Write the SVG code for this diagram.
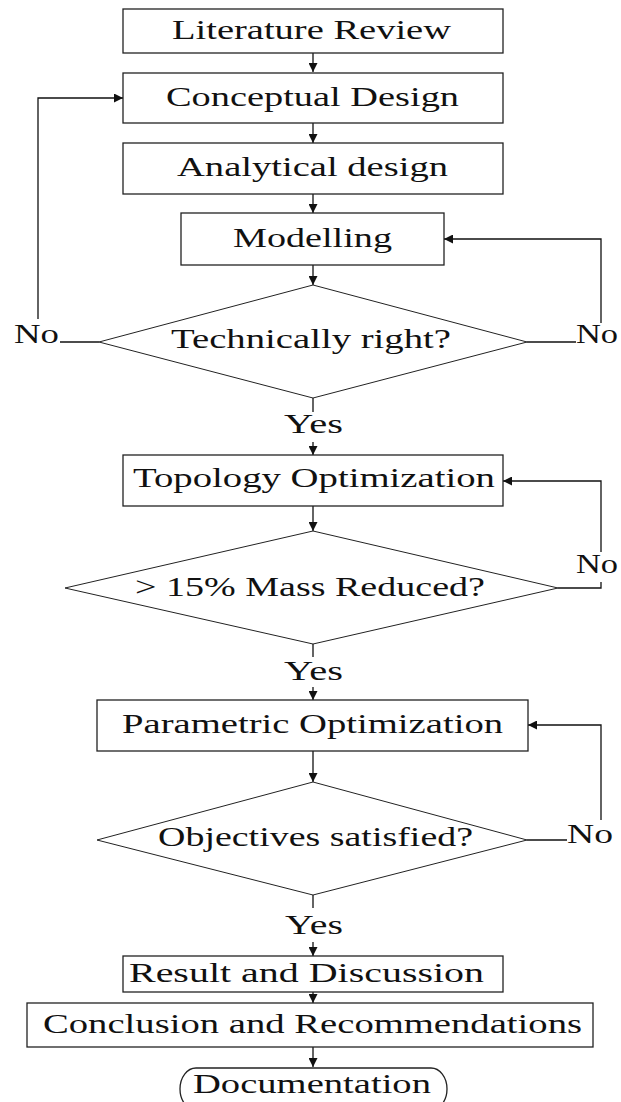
<svg xmlns="http://www.w3.org/2000/svg" width="621" height="1102" viewBox="0 0 621 1102">
<style>
.box{fill:#fff;stroke:#222;stroke-width:1.3}
.dia{fill:#fff;stroke:#222;stroke-width:1}
.t{font-family:"Liberation Serif","Times New Roman",serif;font-size:26.5px;fill:#111}
.c{fill:none;stroke:#111;stroke-width:1.3}
</style>
<defs>
<marker id="ah" markerUnits="userSpaceOnUse" markerWidth="9" markerHeight="9" refX="8" refY="4" orient="auto" viewBox="0 0 8 8">
<path d="M0,0 L8,4 L0,8 z" fill="#111"/>
</marker>
</defs>
<rect width="621" height="1102" fill="#fff"/>
<g id="connectors">
<path class="c" d="M313,53 V72" marker-end="url(#ah)"/>
<path class="c" d="M313,123 V143" marker-end="url(#ah)"/>
<path class="c" d="M313,194 V213" marker-end="url(#ah)"/>
<path class="c" d="M313,265 V285" marker-end="url(#ah)"/>
<path class="c" d="M99,342 H60"/>
<path class="c" d="M38,319 V98 H123" marker-end="url(#ah)"/>
<path class="c" d="M527,342 H576"/>
<path class="c" d="M601,323 V239 H444" marker-end="url(#ah)"/>
<path class="c" d="M313,398 V412"/>
<path class="c" d="M313,442 V455" marker-end="url(#ah)"/>
<path class="c" d="M313,506 V531" marker-end="url(#ah)"/>
<path class="c" d="M558,588 H601 V582"/>
<path class="c" d="M601,552 V481 H503" marker-end="url(#ah)"/>
<path class="c" d="M313,644 V657"/>
<path class="c" d="M313,687 V700" marker-end="url(#ah)"/>
<path class="c" d="M313,751 V782" marker-end="url(#ah)"/>
<path class="c" d="M527,840 H567"/>
<path class="c" d="M601,820 V725 H528" marker-end="url(#ah)"/>
<path class="c" d="M313,895 V908"/>
<path class="c" d="M313,942 V956" marker-end="url(#ah)"/>
<path class="c" d="M313,992 V1003" marker-end="url(#ah)"/>
<path class="c" d="M313,1047 V1067" marker-end="url(#ah)"/>
</g>
<g id="literature-review">
<rect class="box" x="123" y="9" width="380" height="44"/>
<text class="t" transform="translate(172,39) scale(1.46,1)" textLength="191.1" lengthAdjust="spacingAndGlyphs">Literature Review</text>
</g>
<g id="conceptual-design">
<rect class="box" x="123" y="73" width="380" height="50"/>
<text class="t" transform="translate(166,106) scale(1.46,1)" textLength="200.7" lengthAdjust="spacingAndGlyphs">Conceptual Design</text>
</g>
<g id="analytical-design">
<rect class="box" x="123" y="143" width="380" height="51"/>
<text class="t" transform="translate(177,176) scale(1.46,1)" textLength="185.6" lengthAdjust="spacingAndGlyphs">Analytical design</text>
</g>
<g id="modelling">
<rect class="box" x="181" y="213" width="263" height="52"/>
<text class="t" transform="translate(233,247) scale(1.46,1)" textLength="108.9" lengthAdjust="spacingAndGlyphs">Modelling</text>
</g>
<g id="technically-right">
<polygon class="dia" points="313,285 527,342 313,398 99,342"/>
<text class="t" transform="translate(171,348) scale(1.46,1)" textLength="191.8" lengthAdjust="spacingAndGlyphs">Technically right?</text>
</g>
<g id="labels-1">
<text class="t" transform="translate(14,343) scale(1.46,1)" textLength="30.8" lengthAdjust="spacingAndGlyphs">No</text>
<text class="t" transform="translate(576,343) scale(1.3,1)">No</text>
<text class="t" transform="translate(284,433) scale(1.46,1)" textLength="40.4" lengthAdjust="spacingAndGlyphs">Yes</text>
</g>
<g id="topology-optimization">
<rect class="box" x="123" y="455" width="380" height="51"/>
<text class="t" transform="translate(133,487) scale(1.46,1)" textLength="247.9" lengthAdjust="spacingAndGlyphs">Topology Optimization</text>
</g>
<g id="mass-reduced">
<polygon class="dia" points="313,531 558,588 313,644 65,588"/>
<text class="t" transform="translate(135,596) scale(1.46,1)" textLength="239.7" lengthAdjust="spacingAndGlyphs">&gt; 15% Mass Reduced?</text>
</g>
<g id="labels-2">
<text class="t" transform="translate(576,573) scale(1.3,1)">No</text>
<text class="t" transform="translate(284,680) scale(1.46,1)" textLength="40.4" lengthAdjust="spacingAndGlyphs">Yes</text>
</g>
<g id="parametric-optimization">
<rect class="box" x="97" y="700" width="431" height="51"/>
<text class="t" transform="translate(122,733) scale(1.46,1)" textLength="261" lengthAdjust="spacingAndGlyphs">Parametric Optimization</text>
</g>
<g id="objectives-satisfied">
<polygon class="dia" points="313,782 527,840 313,895 97,840"/>
<text class="t" transform="translate(158,846) scale(1.46,1)" textLength="215.8" lengthAdjust="spacingAndGlyphs">Objectives satisfied?</text>
</g>
<g id="labels-3">
<text class="t" transform="translate(567,843) scale(1.46,1)" textLength="31.5" lengthAdjust="spacingAndGlyphs">No</text>
<text class="t" transform="translate(285,934) scale(1.46,1)" textLength="39.7" lengthAdjust="spacingAndGlyphs">Yes</text>
</g>
<g id="result-and-discussion">
<rect class="box" x="123" y="956" width="380" height="36"/>
<text class="t" transform="translate(129,982) scale(1.46,1)" textLength="243.2" lengthAdjust="spacingAndGlyphs">Result and Discussion</text>
</g>
<g id="conclusion">
<rect class="box" x="27" y="1003" width="566" height="44"/>
<text class="t" transform="translate(43,1033) scale(1.46,1)" textLength="369.2" lengthAdjust="spacingAndGlyphs">Conclusion and Recommendations</text>
</g>
<g id="documentation">
<rect class="box" x="180" y="1068" width="267" height="42" rx="16" ry="21"/>
<text class="t" transform="translate(193,1093) scale(1.46,1)" textLength="163" lengthAdjust="spacingAndGlyphs">Documentation</text>
</g>
</svg>
